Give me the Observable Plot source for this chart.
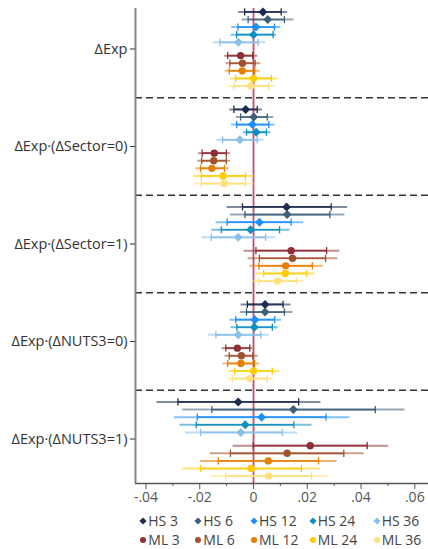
<!DOCTYPE html>
<html><head><meta charset="utf-8">
<script src="https://cdn.jsdelivr.net/npm/d3@7"></script>
<script src="https://cdn.jsdelivr.net/npm/@observablehq/plot@0.6"></script>
<style>
body{margin:0;background:#fff;font-family:"Open Sans",sans-serif;}
#chart{position:relative;width:428px;height:549px;overflow:hidden;}
.leg{position:absolute;font-size:14px;color:#444;display:flex;align-items:center;white-space:nowrap;line-height:17px;height:17px;}
.leg svg{margin-right:1px;}
</style></head><body><div id="chart"></div>
<script>
const groups = ["ΔExp", "ΔExp·(ΔSector=0)", "ΔExp·(ΔSector=1)", "ΔExp·(ΔNUTS3=0)", "ΔExp·(ΔNUTS3=1)"];
const series = ["HS 3", "HS 6", "HS 12", "HS 24", "HS 36", "ML 3", "ML 6", "ML 12", "ML 24", "ML 36"];
const colors = ["#1c2b4f", "#3f6079", "#1e8fff", "#0d8fbf", "#88c0ea", "#8e2f35", "#a0522d", "#e67e00", "#ffcc00", "#ffe07a"];
const xTicks = [-0.04, -0.02, 0, 0.02, 0.04, 0.06];
const xMinorTicks = [-0.03, -0.01, 0.01, 0.03, 0.05];

// point estimates, one row per group, one column per series
const est = [
  [0.0035, 0.0053, 0.0009, 0.0000, -0.0056, -0.0048, -0.0041, -0.0042, 0.0000, -0.0010],
  [-0.0029, 0.0001, -0.0004, 0.0010, -0.0051, -0.0146, -0.0148, -0.0155, -0.0113, -0.0109],
  [0.0123, 0.0125, 0.0022, -0.0011, -0.0057, 0.0140, 0.0145, 0.0120, 0.0118, 0.0089],
  [0.0043, 0.0043, 0.0005, 0.0003, -0.0057, -0.0060, -0.0045, -0.0047, 0.0000, -0.0014],
  [-0.0057, 0.0148, 0.0030, -0.0031, -0.0047, 0.0211, 0.0125, 0.0055, -0.0009, 0.0056]
];
// 95% CI
const lo95 = [
  [-0.0057, -0.0045, -0.0083, -0.0086, -0.0151, -0.0109, -0.0104, -0.0107, -0.0089, -0.0096],
  [-0.0090, -0.0066, -0.0084, -0.0040, -0.0138, -0.0206, -0.0209, -0.0216, -0.0226, -0.0222],
  [-0.0100, -0.0088, -0.0141, -0.0157, -0.0193, -0.0037, -0.0022, -0.0015, 0.0007, -0.0007],
  [-0.0048, -0.0051, -0.0090, -0.0086, -0.0170, -0.0119, -0.0108, -0.0115, -0.0094, -0.0098],
  [-0.0361, -0.0265, -0.0296, -0.0276, -0.0255, -0.0078, -0.0162, -0.0200, -0.0265, -0.0159]
];
const hi95 = [
  [0.0125, 0.0149, 0.0100, 0.0084, 0.0043, 0.0014, 0.0025, 0.0022, 0.0089, 0.0078],
  [0.0032, 0.0073, 0.0078, 0.0063, 0.0036, -0.0088, -0.0088, -0.0093, 0.0001, 0.0001],
  [0.0348, 0.0338, 0.0185, 0.0134, 0.0082, 0.0319, 0.0312, 0.0257, 0.0228, 0.0186],
  [0.0138, 0.0145, 0.0103, 0.0090, 0.0057, -0.0004, 0.0016, 0.0021, 0.0096, 0.0073],
  [0.0249, 0.0561, 0.0357, 0.0216, 0.0162, 0.0500, 0.0410, 0.0309, 0.0249, 0.0274]
];
// 90% CI
const lo90 = [
  [-0.0033, -0.0020, -0.0058, -0.0063, -0.0125, -0.0096, -0.0088, -0.0090, -0.0067, -0.0073],
  [-0.0073, -0.0048, -0.0063, -0.0026, -0.0115, -0.0191, -0.0193, -0.0197, -0.0194, -0.0194],
  [-0.0041, -0.0032, -0.0098, -0.0120, -0.0157, 0.0009, 0.0022, 0.0020, 0.0038, 0.0020],
  [-0.0023, -0.0026, -0.0066, -0.0062, -0.0140, -0.0103, -0.0090, -0.0096, -0.0070, -0.0078],
  [-0.0281, -0.0155, -0.0209, -0.0213, -0.0197, -0.0001, -0.0086, -0.0131, -0.0197, -0.0103]
];
const hi90 = [
  [0.0103, 0.0115, 0.0078, 0.0073, 0.0017, -0.0003, 0.0006, 0.0005, 0.0067, 0.0057],
  [0.0014, 0.0051, 0.0057, 0.0048, 0.0014, -0.0101, -0.0101, -0.0108, -0.0030, -0.0030],
  [0.0289, 0.0284, 0.0140, 0.0097, 0.0045, 0.0272, 0.0268, 0.0219, 0.0198, 0.0160],
  [0.0110, 0.0115, 0.0079, 0.0070, 0.0027, -0.0014, -0.0003, 0.0004, 0.0070, 0.0051],
  [0.0168, 0.0453, 0.0270, 0.0150, 0.0107, 0.0423, 0.0336, 0.0242, 0.0178, 0.0216]
];

// layout helpers
const slotStep = 0.078;
const slotOffset = s => (s < 5 ? s - 4.875 : s - 4.125) * slotStep;
const rows = [];
groups.forEach((g, gi) => series.forEach((name, si) => rows.push({
  group: g, name, color: colors[si], hs: si < 5,
  y: gi + 1 + slotOffset(si),
  est: est[gi][si], lo95: lo95[gi][si], hi95: hi95[gi][si], lo90: lo90[gi][si], hi90: hi90[gi][si]
})));
const caps = rows.flatMap(d => [{...d, x: d.lo90}, {...d, x: d.hi90}]);
const boundaries = groups.slice(1).map((_, i) => i + 1.5);

const xDomain = [-0.0439, 0.0651];
const yDomain = [0.585, 5.456];

const capSymbol = {draw(ctx) { ctx.moveTo(0, -3.6); ctx.lineTo(0, 3.6); }};
const diamondSymbol = {draw(ctx) { const r = 4.5; ctx.moveTo(0, -r); ctx.lineTo(r, 0); ctx.lineTo(0, r); ctx.lineTo(-r, 0); ctx.closePath(); }};
const fmt = v => v === 0 ? "0" : (v < 0 ? "-" : "") + Math.abs(v).toFixed(2).replace(/^0/, "");

const plot = Plot.plot({
  width: 428, height: 510,
  marginLeft: 135, marginRight: 0, marginTop: 8, marginBottom: 27,
  style: {fontFamily: "'Open Sans', sans-serif", background: "#fff"},
  x: {domain: xDomain},
  y: {domain: yDomain, reverse: true},
  color: {type: "identity"},
  marks: [
    Plot.ruleY(boundaries, {stroke: "#333", strokeWidth: 1.3, strokeDasharray: "7,4"}),
    Plot.ruleX([0], {stroke: "#c24f6e", strokeWidth: 1.8}),
    Plot.link(rows, {x1: "lo95", x2: "hi95", y1: "y", y2: "y", stroke: "color", strokeWidth: 2, strokeOpacity: 0.55}),
    Plot.link(rows, {x1: "lo90", x2: "hi90", y1: "y", y2: "y", stroke: "color", strokeWidth: 1.7, strokeOpacity: 0.9}),
    Plot.dot(caps, {x: "x", y: "y", stroke: "color", symbol: capSymbol, strokeWidth: 1.3, r: 3}),
    Plot.dot(rows.filter(d => d.hs), {x: "est", y: "y", fill: "color", symbol: diamondSymbol, r: 4}),
    Plot.dot(rows.filter(d => !d.hs), {x: "est", y: "y", fill: "color", symbol: "circle", r: 3.7}),
    Plot.ruleX([xDomain[0]], {stroke: "#888", strokeWidth: 2}),
    Plot.ruleY([yDomain[1]], {stroke: "#555", strokeWidth: 1.3}),
    Plot.axisY({ticks: groups.map((_, i) => i + 1), tickFormat: i => groups[i - 1], tickSize: 5, tickPadding: 3, fontSize: 14.5, color: "#333", label: null}),
    Plot.axisX({ticks: xTicks, tickFormat: fmt, tickSize: 6, tickPadding: 3, fontSize: 14, color: "#555", label: null}),
    Plot.axisX({ticks: xMinorTicks, tickFormat: () => "", tickSize: 3, color: "#555", label: null})
  ]
});
const chart = document.getElementById("chart");
chart.appendChild(plot);

// legend
const legendX = [143.3, 198.3, 254, 312.7, 376.7];
series.forEach((name, i) => {
  const div = document.createElement("div");
  div.className = "leg";
  div.style.left = (legendX[i % 5] - 4) + "px";
  div.style.top = (i < 5 ? 512 : 531) + "px";
  const marker = i < 5
    ? `<svg width="8" height="8" viewBox="-4 -4 8 8"><path d="M0,-3.6L3.6,0L0,3.6L-3.6,0Z" fill="${colors[i]}"/></svg>`
    : `<svg width="8" height="8" viewBox="-4 -4 8 8"><circle r="3" fill="${colors[i]}"/></svg>`;
  div.innerHTML = marker + `<span>${name}</span>`;
  chart.appendChild(div);
});
</script></body></html>
